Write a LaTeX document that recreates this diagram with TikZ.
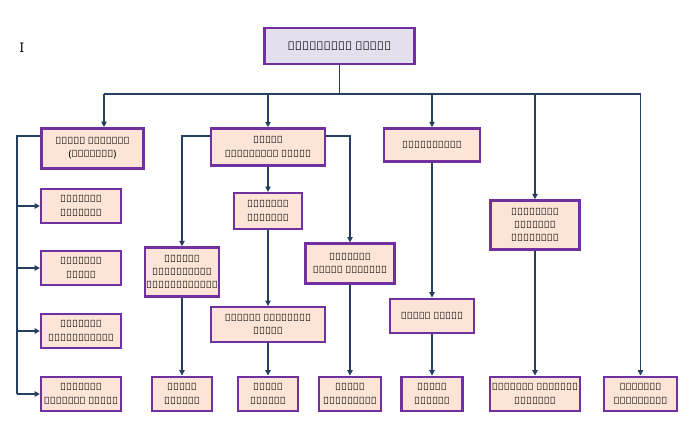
\documentclass[tikz,border=0pt]{standalone}
\usepackage{fontspec}
\setmainfont{Noto Sans}
\usetikzlibrary{arrows.meta}
\definecolor{boxline}{HTML}{7030A0}
\definecolor{boxfill}{HTML}{FCE4D6}
\definecolor{topfill}{HTML}{E4DFEC}
\definecolor{wire}{HTML}{243F60}
\tikzset{
  post/.style={draw=boxline, line width=1.8pt, fill=boxfill, align=center,
    font=\fontsize{7.5}{10}\selectfont\bfseries, inner sep=1pt},
  link/.style={draw=wire, line width=1.1pt},
  arr/.style={link, -{Triangle[length=4pt,width=4pt]}}
}
\begin{document}
\begin{tikzpicture}[x=0.02646cm,y=-0.02646cm]
  \useasboundingbox (0,0) rectangle (695,439);
  \node (mark) at (22,48) {I};

  % top
  \node[post, fill=topfill, minimum width=113pt, minimum height=27pt,
    font=\fontsize{9}{11}\selectfont\bfseries] (ds) at (339.5,46) {ප්‍රාදේශීය ලේකම්};

  % second row
  \node[post, minimum width=77pt, minimum height=30pt] (ad) at (92.5,148.5) {සහකාර අධ්‍යක්ෂ\\(සැලසුම්)};
  \node[post, minimum width=86pt, minimum height=28pt] (ads) at (268,147) {සහකාර\\ප්‍රාදේශීය ලේකම්};
  \node[post, minimum width=72pt, minimum height=25pt] (acc) at (432,145) {ගණකාධිකාරී};

  % left column
  \node[post, minimum width=60pt, minimum height=26pt] (l1) at (81,206) {සංවර්ධන\\නිලධාරී};
  \node[post, minimum width=60pt, minimum height=26pt] (l2) at (81,268) {සංවර්ධන\\සහකාර};
  \node[post, minimum width=60pt, minimum height=26pt] (l3) at (81,331) {සංවර්ධන\\සම්බන්ධීකාර};
  \node[post, minimum width=60pt, minimum height=26pt] (l4) at (81,394) {සංවර්ධන\\ක්ෂේත්‍ර සහකාර};

  % middle
  \node[post, minimum width=51pt, minimum height=27pt] (ao) at (268,211) {පරිපාලන\\නිලධාරී};
  \node[post, minimum width=50pt, minimum height=37pt] (adr) at (182,272) {අතිරේක\\දිස්ත්‍රික්\\රෙජිස්ට්‍රාර්};
  \node[post, minimum width=67pt, minimum height=30pt] (agn) at (350,263.5) {පරිපාලන\\ග්‍රාම නිලධාරී};
  \node[post, minimum width=86pt, minimum height=26pt] (cma) at (268,324.5) {ප්‍රධාන කළමණාකරණ\\සහකාර};
  \node[post, minimum width=63pt, minimum height=26pt] (fa) at (432,316) {මූල්‍ය සහකාර};
  \node[post, minimum width=67pt, minimum height=37pt] (hsm) at (535,225) {මූලස්ථාන\\සමෘද්ධි\\කළමණාකරු};

  % bottom row
  \node[post, minimum width=45pt, minimum height=26pt] (b1) at (182,394) {කාර්ය\\මණ්ඩලය};
  \node[post, minimum width=45pt, minimum height=26pt] (b2) at (268,394) {කාර්ය\\මණ්ඩලය};
  \node[post, minimum width=47pt, minimum height=26pt] (b3) at (350,394) {ග්‍රාම\\නිලධාරීන්};
  \node[post, minimum width=46pt, minimum height=26pt] (b4) at (432,394) {කාර්ය\\මණ්ඩලය};
  \node[post, minimum width=68pt, minimum height=26pt] (b5) at (535,394) {සමෘද්ධි සංවර්ධන\\නිලධාරී};
  \node[post, minimum width=55pt, minimum height=26pt] (b6) at (640.5,394) {ක්ෂේත්‍ර\\නිලධාරීන්};

  % bus
  \coordinate (bus) at (339.5,94);
  \coordinate (busL) at (104,94);
  \coordinate (busR) at (640.5,94);
  \coordinate (adin) at (104,127);
  \draw[link] (ds.south) -- (bus);
  \draw[link] (busL) -- (busR);
  \draw[arr] (busL) -- (adin);
  \draw[arr] (ads.north |- bus) -- (ads.north);
  \draw[arr] (acc.north |- bus) -- (acc.north);
  \draw[arr] (hsm.north |- bus) -- (hsm.north);
  \draw[arr] (busR) -- (b6.north);

  % left column links
  \coordinate (spineT) at (17,136);
  \coordinate (spineB) at (17,394);
  \draw[link] (ad.west |- spineT) -- (spineT) -- (spineB);
  \foreach \n in {l1,l2,l3,l4}
    \draw[arr] (spineT |- \n.west) -- (\n.west);

  % assistant secretary links
  \draw[arr] (ads.west |- spineT) -| (adr.north);
  \draw[arr] (ads.east |- spineT) -| (agn.north);
  \draw[arr] (ads.south) -- (ao.north);
  \draw[arr] (ao.south) -- (cma.north);
  \draw[arr] (adr.south) -- (b1.north);
  \draw[arr] (cma.south) -- (b2.north);
  \draw[arr] (agn.south) -- (b3.north);
  \draw[arr] (acc.south) -- (fa.north);
  \draw[arr] (fa.south) -- (b4.north);
  \draw[arr] (hsm.south) -- (b5.north);
\end{tikzpicture}
\end{document}
